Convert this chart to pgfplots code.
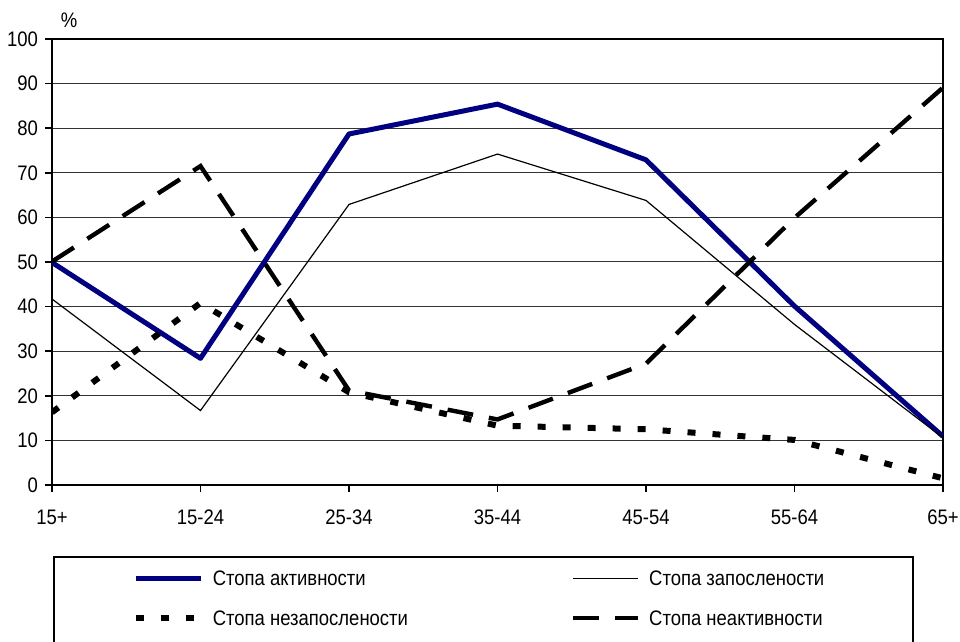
\documentclass[border=0pt]{standalone}
\usepackage{fontspec}
\setmainfont{Liberation Sans}[FakeStretch=0.88]
\usepackage{pgfplots}
\pgfplotsset{compat=1.18}
\definecolor{navy}{RGB}{0,0,128}

% age groups at 0..6
\pgfplotstableread{
x act emp unemp inact
0 49.9 41.7 16.3 50.1
1 28.4 16.7 40.8 71.5
2 78.7 62.9 20.8 21.2
3 85.4 74.2 13.3 14.7
4 72.9 63.8 12.5 27.2
5 40.1 36.0 10.1 59.9
6 10.9 10.6 1.5 89.1
}\rates

\newcommand\lentry[2]{\makebox[#1][l]{\hspace{4.5pt}#2}}

\begin{document}
\begin{tikzpicture}[font=\fontsize{10.5}{12.6}\selectfont]
\begin{axis}[name=ax,
  scale only axis, width=445.5pt, height=223pt,
  xmin=0, xmax=6, ymin=0, ymax=100,
  xtick={0,...,6},
  xticklabels={15+,15-24,25-34,35-44,45-54,55-64,65+},
  ytick={0,10,...,100},
  tick align=outside, major tick length=3.5pt,
  tick style={black, line width=0.8pt},
  xtick pos=bottom, ytick pos=left,
  ymajorgrids, major grid style={black!80, line width=0.5pt},
  axis line style={line width=1pt},
  /pgf/number format/assume math mode=true,
  xticklabel style={yshift=-5.5pt},
  legend columns=2,
  legend image code/.code={\draw[#1] (0pt,3.6pt) -- (32.5pt,3.6pt);},
  legend style={at={(0,0)}, anchor=north west, xshift=0.5pt, yshift=-35.5pt,
    draw=black, line width=0.8pt, inner xsep=39.5pt, inner ysep=6.75pt,
    column sep=0pt, row sep=8.5pt,
    nodes={inner sep=0pt, anchor=base west, text height=7.5pt, text depth=4pt}},
]
\addplot[navy, line width=2.5pt, line join=round] table[x=x, y=act] {\rates};
\addlegendentry{\lentry{183.5pt}{Стопа активности}}
\addplot[black, line width=0.6pt] table[x=x, y=emp] {\rates};
\addlegendentry{\lentry{97pt}{Стопа запослености}}
\addplot[black, line width=3pt, dash pattern=on 4pt off 8.5pt] table[x=x, y=unemp] {\rates};
\addlegendentry{\lentry{183.5pt}{Стопа незапослености}}
\addplot[black, line width=2.2pt, dash pattern=on 13pt off 8pt] table[x=x, y=inact] {\rates};
\addlegendentry{\lentry{97pt}{Стопа неактивности}}
\end{axis}
\node[anchor=base] at ([shift={(8.5pt,5.5pt)}]ax.north west) {\%};
\pgfresetboundingbox
\path ([shift={(-26pt,-78pt)}]ax.south west) rectangle ([shift={(8.5pt,19.5pt)}]ax.north east);
\end{tikzpicture}
\end{document}
